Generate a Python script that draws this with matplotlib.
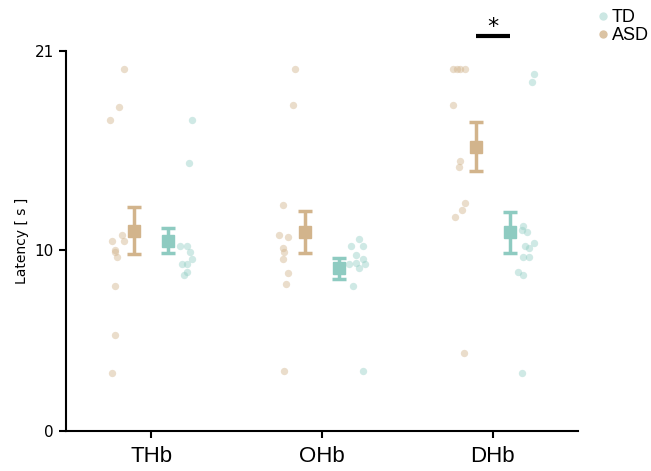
import matplotlib
matplotlib.use("Agg")
import matplotlib.pyplot as plt
from matplotlib.lines import Line2D

# --- data ---
categories = ["THb", "OHb", "DHb"]

asd_points = [
    [20.0, 17.9, 17.2, 10.8, 10.5, 10.5, 10.0, 9.9, 9.6, 8.0, 5.3, 3.2],
    [20.0, 18.0, 12.5, 10.8, 10.7, 10.1, 9.9, 9.5, 8.7, 8.1, 3.3],
    [20.0, 20.0, 20.0, 20.0, 18.0, 14.9, 14.6, 12.6, 12.2, 11.8, 4.3],
]
td_points = [
    [17.2, 14.8, 10.2, 10.2, 9.9, 9.5, 9.2, 9.2, 8.8, 8.6],
    [10.6, 10.2, 10.2, 9.7, 9.5, 9.3, 9.2, 9.2, 9.0, 8.0, 3.3],
    [19.7, 19.3, 11.3, 11.1, 11.0, 10.4, 10.2, 10.1, 9.6, 9.6, 8.8, 8.6, 3.2],
]

asd_mean = [11.07, 11.01, 15.71]
asd_err = [1.30, 1.17, 1.34]
td_mean = [10.52, 8.99, 10.98]
td_err = [0.70, 0.58, 1.13]

# horizontal jitter of the individual points (fixed, as seen in the picture)
asd_jitter = [
    [-0.16, -0.19, -0.24, -0.17, -0.16, -0.23, -0.21, -0.21, -0.20, -0.21, -0.21, -0.23],
    [-0.16, -0.17, -0.23, -0.25, -0.20, -0.23, -0.22, -0.23, -0.20, -0.21, -0.22],
    [-0.23, -0.21, -0.19, -0.16, -0.23, -0.19, -0.20, -0.16, -0.18, -0.22, -0.17],
]
td_jitter = [
    [0.24, 0.22, 0.17, 0.21, 0.23, 0.24, 0.18, 0.21, 0.21, 0.19],
    [0.22, 0.17, 0.24, 0.20, 0.24, 0.20, 0.16, 0.25, 0.22, 0.18, 0.24],
    [0.24, 0.23, 0.18, 0.17, 0.20, 0.24, 0.19, 0.21, 0.18, 0.21, 0.15, 0.18, 0.17],
]

asd_color = "#d2b48c"
td_color = "#8ecbc1"

fig = plt.figure(figsize=(6.51, 4.71), dpi=100)
ax = fig.add_axes([0.101, 0.085, 0.787, 0.807])

for i in range(len(categories)):
    ax.scatter([i + j for j in asd_jitter[i]], asd_points[i], s=28,
               color=asd_color, alpha=0.45, linewidths=0, zorder=2)
    ax.scatter([i + j for j in td_jitter[i]], td_points[i], s=28,
               color=td_color, alpha=0.42, linewidths=0, zorder=2)

xs = range(len(categories))
ax.errorbar([x - 0.1 for x in xs], asd_mean, yerr=asd_err, fmt="s", color=asd_color,
            markersize=9, elinewidth=2.5, capsize=5, capthick=2.5, zorder=3)
ax.errorbar([x + 0.1 for x in xs], td_mean, yerr=td_err, fmt="s", color=td_color,
            markersize=9, elinewidth=2.5, capsize=5, capthick=2.5, zorder=3)

# significance marker over DHb
ax.plot([1.9, 2.1], [21.8, 21.8], color="black", lw=3, clip_on=False, solid_capstyle="butt")
ax.text(2.0, 21.75, "*", ha="center", va="bottom", fontsize=16, clip_on=False)

ax.set_xlim(-0.5, 2.5)
ax.set_ylim(0, 21)
ax.set_yticks([0, 10, 21])
ax.tick_params(axis="y", labelsize=11, width=1.5, length=5)
ax.set_xticks(list(xs))
ax.set_xticklabels(categories, fontsize=16, family="Liberation Sans")
ax.tick_params(axis="x", width=1.5, length=5, pad=6)
ax.set_ylabel("Latency [ s ]", fontsize=10)
for side in ["top", "right"]:
    ax.spines[side].set_visible(False)
for side in ["left", "bottom"]:
    ax.spines[side].set_linewidth(1.5)

handles = [
    Line2D([], [], marker="o", ls="", color=td_color, alpha=0.45, markersize=6, markeredgewidth=0),
    Line2D([], [], marker="o", ls="", color=asd_color, alpha=0.8, markersize=6, markeredgewidth=0),
]
fig.legend(handles, ["TD", "ASD"], loc="upper left", bbox_to_anchor=(0.89, 1.015),
           frameon=False, handletextpad=0.1, labelspacing=0.05, handlelength=0.8,
           prop={"family": "Liberation Sans", "size": 13})

fig.savefig("out.png", dpi=100)
